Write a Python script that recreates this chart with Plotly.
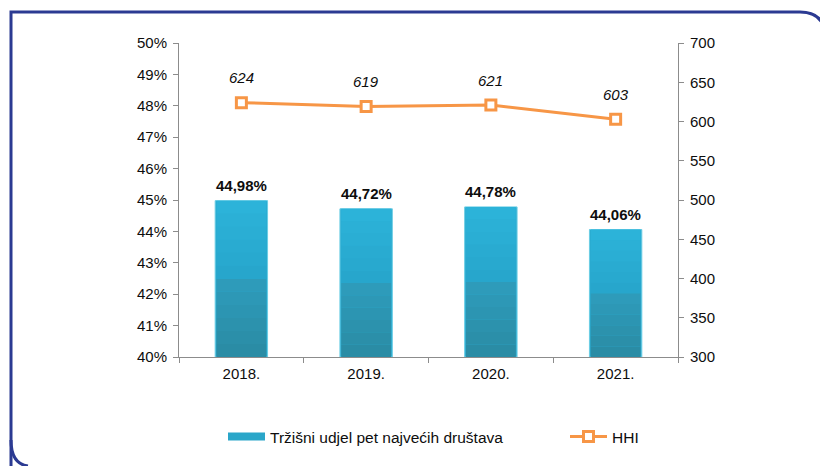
import plotly.graph_objects as go

# ---- data ----
years = ["2018.", "2019.", "2020.", "2021."]
share = [44.98, 44.72, 44.78, 44.06]          # % market share of top five
share_labels = ["44,98%", "44,72%", "44,78%", "44,06%"]
hhi = [624, 619, 621, 603]
hhi_labels = ["624", "619", "621", "603"]
left_ticks = [40, 41, 42, 43, 44, 45, 46, 47, 48, 49, 50]
left_tick_text = [f"{v}%" for v in left_ticks]
right_ticks = [300, 350, 400, 450, 500, 550, 600, 650, 700]
bar_name = "Tržišni udjel pet najvećih društava"

OFF = 8  # browser body margin
W, H = 828 - OFF, 466 - OFF
ML, MR, MT, MB = 179 - OFF, 150, 43 - OFF, 109
PW, PH = W - ML - MR, H - MT - MB
FONT = "Liberation Sans, Arial, sans-serif"
FS = 15
BASE = 40
TXT = "#0d0d0d"

def px2paper(x, y):
    # x, y in reference-screen pixels
    return (x - OFF - ML) / PW, (H - MB - (y - OFF)) / PH

def lerp(c1, c2, t):
    a = [int(c1[i:i + 2], 16) for i in (1, 3, 5)]
    b = [int(c2[i:i + 2], 16) for i in (1, 3, 5)]
    return "#" + "".join(f"{round(a[k] + (b[k] - a[k]) * t):02x}" for k in range(3))

fig = go.Figure()

# full bar with light outline
fig.add_trace(go.Bar(
    x=years, y=[v - BASE for v in share], base=BASE, width=0.42,
    name=bar_name, showlegend=False,
    marker=dict(color="#2AAAD0", line=dict(color="#6ACDE4", width=1)),
    yaxis="y", hoverinfo="skip",
))

# gradient bands computed from data fractions
N = 12
for k in range(N):
    f0, f1 = k / N, (k + 1) / N
    t = (k + 0.5) / N
    if t < 0.5:
        col = lerp("#2A8AA3", "#2E9DBC", t / 0.5)
    else:
        col = lerp("#27A5CB", "#2CB4DA", (t - 0.5) / 0.5)
    fig.add_trace(go.Bar(
        x=years,
        y=[(v - BASE) * (f1 - f0) for v in share],
        base=[BASE + (v - BASE) * f0 for v in share],
        width=0.40, marker=dict(color=col, line=dict(width=0)),
        showlegend=False, yaxis="y", hoverinfo="skip",
    ))

# legend proxy for bars (wide flat swatch)
fig.add_trace(go.Scatter(
    x=[None], y=[None], mode="lines", name=bar_name,
    line=dict(color="#2AA6C9", width=8), yaxis="y", legend="legend",
))

fig.add_trace(go.Scatter(
    x=years, y=hhi, yaxis="y2", name="HHI", mode="lines+markers",
    line=dict(color="#F79646", width=3),
    marker=dict(symbol="square", size=10, color="white",
                line=dict(color="#F79646", width=3)),
    legend="legend2",
))

ann = []
for i, (v, t) in enumerate(zip(share, share_labels)):
    ann.append(dict(x=i, y=v, xref="x", yref="y", text=f"<b>{t}</b>", showarrow=False,
                    yanchor="bottom", yshift=5,
                    font=dict(family=FONT, size=FS, color=TXT)))
for i, (v, t) in enumerate(zip(hhi, hhi_labels)):
    ann.append(dict(x=i, y=v, xref="x", yref="y2", text=f"<i>{t}</i>", showarrow=False,
                    yshift=25, font=dict(family=FONT, size=FS, color=TXT)))

# rounded border
def P(x, y):
    a, b = px2paper(x, y)
    return f"{a:.5f},{b:.5f}"

path = ("M" + P(11, 480) + " L" + P(11, 12) + " L" + P(800, 12) +
        " Q" + P(826, 12) + " " + P(826, 40) + " L" + P(826, 480))
shapes = [
    dict(type="path", xref="paper", yref="paper", path=path,
         line=dict(color="#2B3A92", width=3)),
    dict(type="path", xref="paper", yref="paper",
         path="M" + P(11, 440) + " Q" + P(11, 464) + " " + P(28, 466),
         line=dict(color="#2B3A92", width=3)),
]

lx1, ly = px2paper(223, 437)
lx2, _ = px2paper(565, 437)

axis_common = dict(showgrid=False, showline=True, linecolor="#8c8c8c", linewidth=1,
                   ticks="outside", ticklen=5, tickcolor="#8c8c8c", zeroline=False,
                   tickfont=dict(family=FONT, size=FS, color=TXT))

fig.update_layout(
    width=W, height=H, margin=dict(l=ML, r=MR, t=MT, b=MB),
    paper_bgcolor="white", plot_bgcolor="white",
    barmode="overlay",
    font=dict(family=FONT, size=FS, color=TXT),
    xaxis=dict(type="category", range=[-0.5, len(years) - 0.5],
               tickson="boundaries", ticklabelstandoff=3, **axis_common),
    yaxis=dict(range=[40, 50], tickvals=left_ticks, ticktext=left_tick_text,
               ticklabelstandoff=3, **axis_common),
    yaxis2=dict(range=[300, 700], tickvals=right_ticks, overlaying="y", side="right",
                ticklabelstandoff=3, **axis_common),
    legend=dict(orientation="h", x=lx1, y=ly, xanchor="left", yanchor="middle",
                itemwidth=37, font=dict(size=15.5, color=TXT), bgcolor="rgba(0,0,0,0)"),
    legend2=dict(orientation="h", x=lx2, y=ly, xanchor="left", yanchor="middle",
                 itemwidth=37, font=dict(size=15.5, color=TXT), bgcolor="rgba(0,0,0,0)"),
    annotations=ann, shapes=shapes, showlegend=True,
)

fig.write_html("out.html")
